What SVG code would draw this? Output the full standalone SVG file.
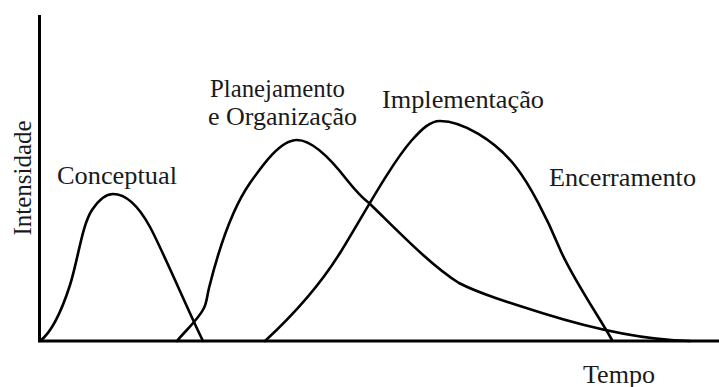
<svg xmlns="http://www.w3.org/2000/svg" width="719" height="387" viewBox="0 0 719 387">
<style>
.ax{stroke:#000;stroke-width:3;fill:none}
.cv{stroke:#000;stroke-width:2.6;fill:none;stroke-linecap:round;stroke-linejoin:round}
.lb{font-family:"Liberation Serif","DejaVu Serif","Times New Roman",serif;font-size:25px;fill:#1a1a1a}
</style>
<rect width="719" height="387" fill="#fff"/>
<g id="axes">
<path class="ax" d="M39.5,15 V341 H719"/>
</g>
<g id="connectors">
<path id="conceptual-curve" class="cv" d="M40,341 C52,332 62,310 70,285 C78,260 82,225 92,210 C98,201 105,194 113,194 C125,194 138,205 150,227 C162,249 190,315 203,341"/>
<path id="planejamento-curve" class="cv" d="M177,341 C185,331 198,320 204,308 C207,302 207,296 209,288 C213,272 227,216 250,183 C262,166 280,140 297,140 C312,140 330,158 347,180 C355,190 361,197 369,203 C395,228 430,265 459,283 C478,293 510,303 542,313 C590,328 640,340 690,341"/>
<path id="implementacao-curve" class="cv" d="M265,341 C290,318 320,285 340,253 C360,221 390,165 412,140 C422,129 430,121 440,121 C462,121 495,140 516,167 C530,185 547,218 559,247 C571,276 598,315 612,340"/>
</g>
<g id="label-intensidade"><text class="lb" font-family="Liberation Serif, DejaVu Serif, serif" transform="translate(31,178) rotate(-90)" text-anchor="middle">Intensidade</text></g>
<g id="label-conceptual"><text class="lb" x="57" y="184" textLength="120" lengthAdjust="spacingAndGlyphs">Conceptual</text></g>
<g id="label-planejamento">
<text class="lb" x="210" y="97" textLength="135" lengthAdjust="spacingAndGlyphs">Planejamento</text>
<text class="lb" x="208" y="125" textLength="149" lengthAdjust="spacingAndGlyphs">e Organização</text>
</g>
<g id="label-implementacao"><text class="lb" x="382" y="108" textLength="162" lengthAdjust="spacingAndGlyphs">Implementação</text></g>
<g id="label-encerramento"><text class="lb" x="549" y="186" textLength="147" lengthAdjust="spacingAndGlyphs">Encerramento</text></g>
<g id="label-tempo"><text class="lb" x="583" y="383" textLength="72" lengthAdjust="spacingAndGlyphs">Tempo</text></g>
</svg>
